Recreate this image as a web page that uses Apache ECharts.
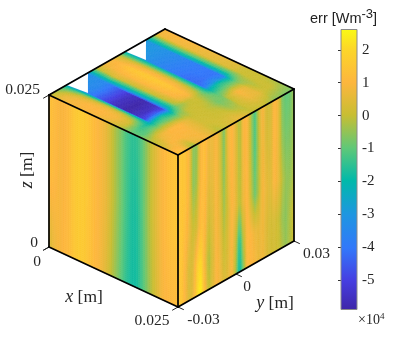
<!DOCTYPE html>
<html><head><meta charset="utf-8">
<style>html,body{margin:0;padding:0;background:#fff}#c{width:407px;height:349px}</style>
<script src="https://cdn.jsdelivr.net/npm/echarts@6/dist/echarts.min.js"></script>
</head><body><div id="c"></div>
<script>
// ---- values (err, in units of 1e4 W/m^3) ----
const xTicks=[0,0.025], xTickLabels=['0','0.025'];
const yTicks=[-0.03,0,0.03], yTickLabels=['-0.03','0','0.03'];
const zTicks=[0,0.025], zTickLabels=['0','0.025'];
const cbarTicks=[2,1,0,-1,-2,-3,-4,-5];
const cbarMin=-5.9, cbarMax=2.62;
const cmapPos=[0,.105,.22,.34,.46,.576,.694,.81,.93,1];
const cmapRGB=[[62,38,168],[70,62,225],[50,120,250],[30,150,225],[0,185,170],[95,200,120],[200,190,50],[253,182,62],[252,215,40],[250,250,20]];

// left face (y = -0.03): rows z=1,.5,0 ; columns x fraction
const leftX=[0,.04,.08,.12,.16,.2,.24,.28,.32,.36,.4,.44,.48,.52,.56,.6,.64,.68,.72,.76,.8,.84,.88,.92,.96,1];
const leftZ=[1,.5,0];
const leftVals=[
[1.3,1.2,.95,.95,1.2,1.5,1.65,1.6,1.4,1.1,.9,.7,.2,-.3,-.7,-1.2,-1.5,-1.5,-1.1,-.5,.1,.6,.95,1.2,1.35,1.5],
[1.2,1.1,.9,.95,1.2,1.55,1.65,1.6,1.4,1.1,.9,.7,.2,-.3,-.8,-1.3,-1.7,-1.7,-1.2,-.5,.1,.6,.95,1.2,1.35,1.5],
[.3,.7,.9,1.0,1.2,1.5,1.6,1.55,1.3,1.05,.85,.5,.0,-.5,-1.0,-1.5,-1.8,-1.8,-1.3,-.7,-.1,.4,.9,1.0,1.1,1.2]];

// right face (x = 0.025): rows z ; columns y fraction
const rightY=[0,.033,.067,.1,.133,.167,.2,.233,.267,.3,.333,.367,.4,.433,.467,.5,.533,.567,.6,.633,.667,.7,.733,.767,.8,.833,.867,.9,.933,.967,1];
const rightZ=[1,.75,.45,.2,0];
const rightVals=[
[1.3,1.5,1.4,.9,-.6,-.5,1.1,1.3,.7,.7,1.0,.2,-.8,.8,1.1,.5,-.3,1.0,1.0,-.3,-1.3,.2,1.0,.2,.2,1.1,.7,-.7,-1.0,-.9,-.4],
[1.3,1.5,1.4,.8,-.6,-.3,1.1,1.3,.6,.6,1.0,.3,-.7,.6,1.1,.6,-.3,.9,1.0,-.2,-1.2,.0,.9,.3,.3,1.1,.7,-.5,-.8,-.7,-.4],
[1.4,1.5,1.2,.7,.0,.3,1.3,1.1,.2,.4,.95,.5,-.4,.3,1.0,.7,-.2,.7,1.1,.0,-.9,-.1,.95,.6,.4,1.0,.7,-.1,-.5,-.5,-.2],
[1.4,1.5,.9,.2,.4,1.6,2.1,.9,-.3,.3,1.0,.7,.0,.4,1.0,.1,-1.6,-.1,1.1,1.0,.7,.6,.8,.4,.2,.3,.1,-.4,-.6,-.2,.1],
[1.4,1.5,.9,.3,.6,2.0,2.5,1.1,-.1,.4,1.0,.8,.3,.5,.95,-.3,-2.0,-.7,1.1,1.0,.9,.6,.8,.4,.2,.2,.1,-.2,-.5,-.2,.1]];

// top face (z = 0.025): rows y fraction ; columns x fraction
const topX=[0,.08,.15,.25,.35,.45,.55,.6,.64,.7,.78,.88,1];
const topY=[0,.04,.08,.12,.15,.163,.168,.25,.33,.34,.37,.41,.47,.54,.6,.64,.66,.668,.76,.836,.845,.88,.93,1];
const topVals=[
[.0,.5,.8,.8,.8,.5,-.1,-.6,-.9,-.9,-.3,.2,1.3],
[-.2,.7,.9,1.0,1.0,.8,.2,-.6,-1.1,-1.1,.0,.5,1.5],
[-.6,.4,.8,1.0,1.0,.9,.3,-.7,-1.4,-1.0,.5,.95,.9],
[-1.3,-.6,.1,.5,.7,.5,-.3,-1.1,-1.7,-.8,.8,1.0,-.2],
[-2.4,-1.9,-1.5,-1.1,-.9,-1.0,-1.5,-1.9,-2.1,-.8,.9,1.0,-.5],
[-3.0,-2.8,-2.6,-2.3,-2.2,-2.3,-2.6,-2.8,-2.3,-.8,1.0,1.0,.1],
[-3.3,-3.4,-3.6,-4.6,-5.5,-5.9,-5.4,-4.8,-2.3,-.7,1.0,.95,.5],
[-3.3,-3.3,-3.5,-4.5,-5.5,-5.9,-5.5,-4.2,-1.7,-.8,1.1,.9,.9],
[-3.3,-3.3,-3.5,-4.5,-5.4,-5.8,-5.4,-4.9,-2.5,-.9,.5,.5,.3],
[-2.8,-2.8,-2.6,-2.8,-3.0,-3.0,-3.0,-3.0,-2.1,-.6,.4,.4,.1],
[-1.7,-1.6,-1.4,-1.6,-1.7,-1.8,-1.9,-1.9,-1.3,-.5,.1,.2,-.2],
[.0,.1,.4,.1,.1,.0,-.2,-.3,-.6,.0,.1,.2,.1],
[.7,.9,1.0,1.1,1.1,1.0,.9,.6,-.1,.1,.1,.1,.4],
[.9,1.1,1.5,1.6,1.6,1.5,1.2,.9,.2,.0,-.2,.1,.7],
[.1,.3,.5,.7,.7,.6,.2,-.1,-.5,-.6,-.8,-.3,.5],
[-1.5,-1.4,-1.3,-1.2,-1.2,-1.3,-1.4,-1.5,-1.5,-.9,-.7,-.2,.1],
[-2.1,-2.1,-2.1,-2.1,-2.1,-2.1,-2.2,-2.3,-2.0,-1.1,-.6,.0,.0],
[-3,-3,-3.2,-3.6,-3.9,-4.2,-4.3,-4.1,-2.3,-1.2,-.2,.1,.1],
[-3,-3,-3.2,-3.5,-3.8,-4.0,-4.1,-3.2,-1.7,-.8,1.0,.7,.0],
[-3,-3,-3.1,-3.4,-3.7,-4,-4.1,-3.9,-2.1,-.7,.5,.6,-.5],
[-2.4,-2.4,-2.3,-2.4,-2.6,-2.7,-2.8,-2.6,-1.8,-.7,.1,.4,-.6],
[-1.3,-1.2,-1.1,-1.1,-1.2,-1.3,-1.4,-1.4,-1.0,-.4,-.2,.1,-.5],
[.8,.8,.8,.7,.6,.5,.4,.3,.1,.1,.1,.1,-.7],
[.95,1.0,1.0,.9,.8,.7,.5,.4,.1,.1,.0,-.3,-.7]];
// gaps in the top surface, as [x fraction, y fraction]
const topGaps=[[[0,.152],[0,.336],[.151,.168]],[[0,.658],[0,.836],[.151,.668]]];

// ---- view ----
const ORIGIN=[49,247],EX=[129,60],EY=[116,-66],EZ=[0,-152];
const proj=(a,b,c)=>[ORIGIN[0]+a*EX[0]+b*EY[0]+c*EZ[0],ORIGIN[1]+a*EX[1]+b*EY[1]+c*EZ[1]];
const fx=x=>x/0.025, fy=y=>(y+0.03)/0.06, fz=z=>z/0.025;

function colorOf(v){
  let t=(v-cbarMin)/(cbarMax-cbarMin); t=Math.max(0,Math.min(1,t));
  let i=0; while(i<cmapPos.length-2&&t>cmapPos[i+1]) i++;
  const f=(t-cmapPos[i])/(cmapPos[i+1]-cmapPos[i]), A=cmapRGB[i],B=cmapRGB[i+1];
  return 'rgb('+A.map((c,k)=>Math.round(c+(B[k]-c)*f)).join(',')+')';
}
const STEP=2;
function faceSeries(name,us,vs,vals,place){
  const data=[];
  for(let r=0;r<vs.length-1;r++)for(let c=0;c<us.length-1;c++)data.push([c,r,vals[r][c]]);
  return {type:'custom',name,coordinateSystem:'cartesian2d',xAxisIndex:0,yAxisIndex:0,silent:true,animation:false,
    progressive:0,data,clip:false,
    renderItem(p,api){
      const c=api.value(0),r=api.value(1);
      const u0=us[c],u1=us[c+1],v0=vs[r],v1=vs[r+1];
      const q00=vals[r][c],q10=vals[r][c+1],q01=vals[r+1][c],q11=vals[r+1][c+1];
      const P=(u,v)=>api.coord(place(u,v));
      const A=P(u0,v0),B=P(u1,v0),D=P(u0,v1);
      const nu=Math.max(1,Math.ceil(Math.hypot(B[0]-A[0],B[1]-A[1])/STEP));
      const nv=Math.max(1,Math.ceil(Math.hypot(D[0]-A[0],D[1]-A[1])/STEP));
      const kids=[];
      for(let i=0;i<nu;i++)for(let j=0;j<nv;j++){
        const s0=i/nu,s1=(i+1)/nu,t0=j/nv,t1=(j+1)/nv;
        const sm=(s0+s1)/2,tm=(t0+t1)/2;
        const v=q00*(1-sm)*(1-tm)+q10*sm*(1-tm)+q01*(1-sm)*tm+q11*sm*tm;
        const col=colorOf(v);
        const ua=u0+(u1-u0)*s0,ub=u0+(u1-u0)*s1,va=v0+(v1-v0)*t0,vb=v0+(v1-v0)*t1;
        kids.push({type:'polygon',shape:{points:[P(ua,va),P(ub,va),P(ub,vb),P(ua,vb)]},
          style:{fill:col,stroke:col,lineWidth:.6}});
      }
      return {type:'group',children:kids};
    }};
}

const C=[[0,0,1],[1,0,1],[1,1,1],[0,1,1],[0,0,0],[1,0,0],[1,1,0]];
const edgeIdx=[[0,1],[1,2],[2,3],[3,0],[0,4],[1,5],[2,6],[4,5],[5,6]];
const edgeData=edgeIdx.map(e=>[...C[e[0]],...C[e[1]]]);
// ticks: start, direction in fractions
const tickData=[];
xTicks.forEach(x=>tickData.push([fx(x),0,0, 0,-0.05,0]));
yTicks.forEach(y=>tickData.push([1,fy(y),0, 0.045,0,0]));
zTicks.forEach(z=>tickData.push([0,0,fz(z), 0,-0.05,0]));

const ink='#262626', serif='"Liberation Serif",serif';
const labelData=[];
const off={x:[[-12,15],[-26,14]],y:[[25.5,13],[11,13],[22.5,13]],z:[[-9,-5],[-11,-4]]};
xTicks.forEach((x,i)=>labelData.push([fx(x),0,0,off.x[i][0],off.x[i][1],xTickLabels[i],'center']));
yTicks.forEach((y,i)=>labelData.push([1,fy(y),0,off.y[i][0],off.y[i][1],yTickLabels[i],'center']));
labelData.push([0,0,fz(zTicks[0]),off.z[1][0],off.z[1][1],zTickLabels[0],'right']);
labelData.push([0,0,fz(zTicks[1]),off.z[0][0],off.z[0][1],zTickLabels[1],'right']);

const titles=[[84,297,'x',0],[275,303,'y',0],[27,170,'z',Math.PI/2]];

const option={
  animation:false,
  grid:[{left:0,top:0,width:407,height:349,containLabel:false},{left:341,top:29.5,width:16,height:280}],
  xAxis:[{type:'value',min:0,max:407,show:false,gridIndex:0},{type:'value',min:0,max:1,show:false,gridIndex:1}],
  yAxis:[{type:'value',min:0,max:349,inverse:true,show:false,gridIndex:0},
    {type:'value',gridIndex:1,position:'right',min:cbarMin,max:cbarMax,
     axisLine:{show:false},splitLine:{show:false},
     axisTick:{show:true,inside:true,length:3,lineStyle:{color:'#333',width:1},customValues:cbarTicks},
     axisLabel:{show:true,inside:false,margin:5,color:ink,fontFamily:serif,fontSize:15,customValues:cbarTicks,
       formatter:v=>String(v)}}],
  series:[
    faceSeries('left',leftX,leftZ,leftVals,(u,v)=>proj(u,0,v)),
    faceSeries('right',rightY,rightZ,rightVals,(u,v)=>proj(1,u,v)),
    faceSeries('top',topX,topY,topVals,(u,v)=>proj(u,v,1)),
    {type:'custom',name:'gaps',xAxisIndex:0,yAxisIndex:0,silent:true,clip:false,data:topGaps.map((g,i)=>[i]),
      renderItem(p,api){const g=topGaps[api.value(0)];
        return {type:'polygon',shape:{points:g.map(q=>api.coord(proj(q[0],q[1],1)))},style:{fill:'#fff'}};}},
    {type:'custom',name:'ticks',xAxisIndex:0,yAxisIndex:0,silent:true,clip:false,data:tickData,
      renderItem(p,api){const a=[0,1,2].map(i=>api.value(i)),d=[3,4,5].map(i=>api.value(i));
        const s=api.coord(proj(a[0],a[1],a[2])),e=api.coord(proj(a[0]+d[0],a[1]+d[1],a[2]+d[2]));
        return {type:'line',shape:{x1:s[0],y1:s[1],x2:e[0],y2:e[1]},style:{stroke:'#222',lineWidth:1}};}},
    {type:'custom',name:'edges',xAxisIndex:0,yAxisIndex:0,silent:true,clip:false,data:edgeData,
      renderItem(p,api){const v=[0,1,2,3,4,5].map(i=>api.value(i));
        const s=api.coord(proj(v[0],v[1],v[2])),e=api.coord(proj(v[3],v[4],v[5]));
        return {type:'line',shape:{x1:s[0],y1:s[1],x2:e[0],y2:e[1]},style:{stroke:'#000',lineWidth:1.7,lineCap:'round'}};}},
    {type:'custom',name:'tick labels',xAxisIndex:0,yAxisIndex:0,silent:true,clip:false,
      data:labelData.map((d,i)=>[i]),
      renderItem(p,api){const d=labelData[api.value(0)];const s=api.coord(proj(d[0],d[1],d[2]));
        return {type:'text',x:s[0]+d[3],y:s[1]+d[4],style:{text:d[5],fill:ink,fontFamily:serif,fontSize:15.5,align:d[6],verticalAlign:'middle'}};}},
    {type:'custom',name:'axis titles',xAxisIndex:0,yAxisIndex:0,silent:true,clip:false,
      data:titles.map((d,i)=>[i]),
      renderItem(p,api){const d=titles[api.value(0)];const s=api.coord([d[0],d[1]]);
        return {type:'text',x:s[0],y:s[1],rotation:d[3],style:{text:'{i|'+d[2]+'} [m]',fill:ink,fontFamily:serif,fontSize:17.5,align:'center',verticalAlign:'middle',
          rich:{i:{fontFamily:serif,fontStyle:'italic',fontSize:18,fill:ink}}}};}},
    {type:'custom',name:'colorbar',xAxisIndex:1,yAxisIndex:1,silent:true,clip:false,data:[[0,cbarMin,1,cbarMax]],z:1,
      renderItem(p,api){
        const a=api.coord([api.value(0),api.value(1)]),b=api.coord([api.value(2),api.value(3)]);
        const stops=cmapPos.map((o,i)=>({offset:o,color:'rgb('+cmapRGB[i].join(',')+')'}));
        return {type:'rect',shape:{x:a[0],y:b[1],width:b[0]-a[0],height:a[1]-b[1]},
          style:{fill:new echarts.graphic.LinearGradient(0,1,0,0,stops),stroke:'#8a8a8a',lineWidth:1}};}}
  ],
  graphic:[
    {type:'text',left:310,top:8,style:{text:'err [Wm{s|-3}]',fill:'#222',fontFamily:'"Liberation Sans",sans-serif',fontSize:14.5,
      rich:{s:{fontFamily:'"Liberation Sans",sans-serif',fontSize:13,fill:'#222',padding:[0,0,8,0]}}}},
    {type:'text',left:358,top:312,style:{text:'×10{s|4}',fill:ink,fontFamily:serif,fontSize:14,
      rich:{s:{fontFamily:serif,fontSize:9,fill:ink,padding:[0,0,7,0]}}}}
  ]
};
const chart=echarts.init(document.getElementById('c'),null,{renderer:'canvas'});
chart.setOption(option);
</script></body></html>
